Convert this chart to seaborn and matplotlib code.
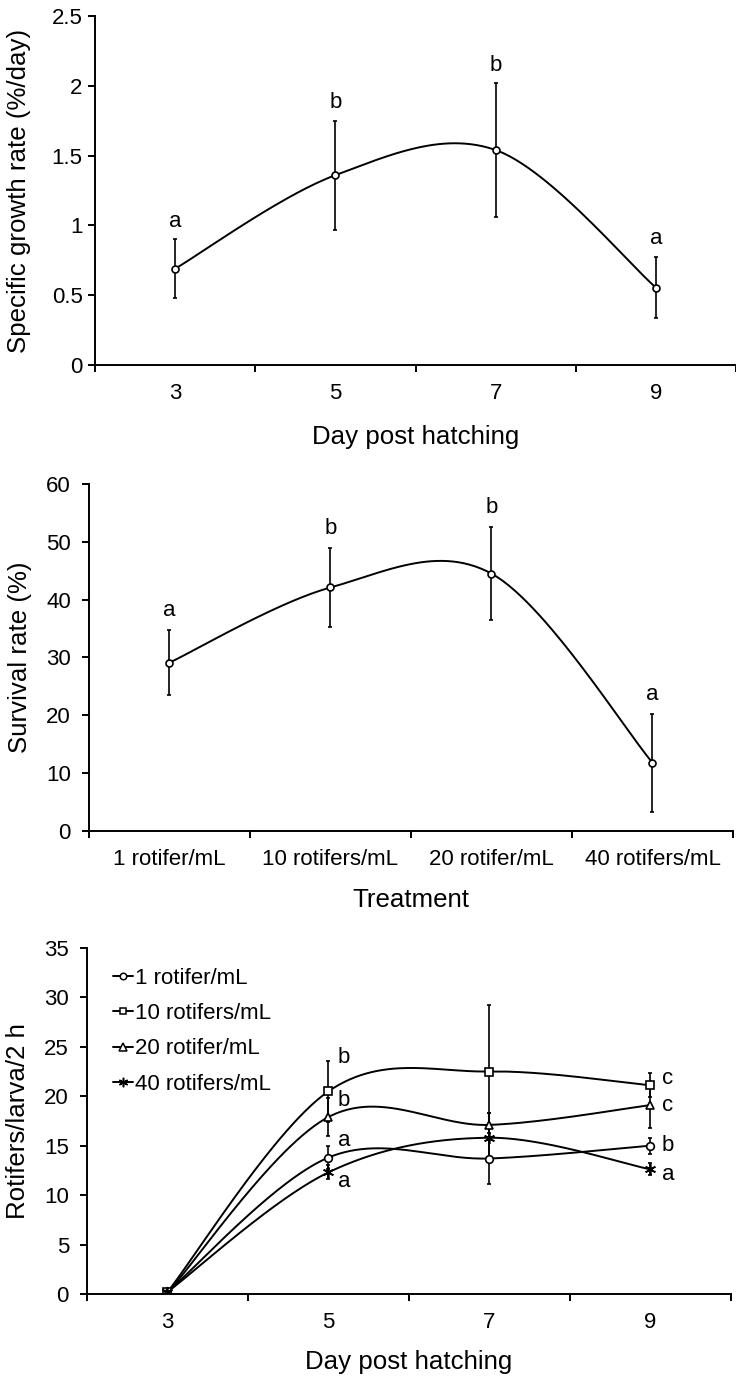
import numpy as np
import pandas as pd
import seaborn as sns
import matplotlib
matplotlib.use("Agg")
import matplotlib.pyplot as plt
from matplotlib.lines import Line2D
from matplotlib.ticker import FixedLocator, FuncFormatter, NullFormatter

# ---- data ----
days = ["3", "5", "7", "9"]

sgr_mean = [0.69, 1.36, 1.54, 0.555]
sgr_err = [0.21, 0.39, 0.48, 0.22]
sgr_letters = ["a", "b", "b", "a"]

treatments = ["1 rotifer/mL", "10 rotifers/mL", "20 rotifer/mL", "40 rotifers/mL"]
surv_mean = [29.1, 42.1, 44.5, 11.8]
surv_err = [5.6, 6.8, 8.1, 8.5]
surv_letters = ["a", "b", "b", "a"]

ingest_1 = [0.2, 13.8, 13.7, 15.0]
ingest_1_err = [0.0, 1.2, 2.6, 0.8]
ingest_10 = [0.2, 20.5, 22.5, 21.1]
ingest_10_err = [0.0, 3.1, 6.7, 1.2]
ingest_20 = [0.1, 17.9, 17.1, 19.1]
ingest_20_err = [0.0, 1.9, 1.2, 2.3]
ingest_40 = [0.2, 12.3, 15.8, 12.6]
ingest_40_err = [0.0, 0.7, 2.5, 0.6]
letters_day5 = ["a", "b", "b", "a"]
letters_day9 = ["b", "c", "c", "a"]

# ---- style ----
sns.set_theme(style="ticks")
plt.rcParams["font.family"] = ["Liberation Sans", "DejaVu Sans"]
for key in ("text.color", "axes.labelcolor", "xtick.color", "ytick.color", "axes.edgecolor"):
    plt.rcParams[key] = "black"
TICK_FS = 16
LABEL_FS = 18.6
LW = 1.4


def smooth_curve(y, n=60):
    """Bezier-smoothed path through the points (Catmull-Rom style control points)."""
    pts = np.column_stack([np.arange(len(y)), y]).astype(float)
    p = np.vstack([pts[0], pts, pts[-1]])
    t = np.linspace(0, 1, n)[:, None]
    segs = []
    for i in range(1, len(p) - 2):
        p0, p3 = p[i], p[i + 1]
        c1 = p0 + (p[i + 1] - p[i - 1]) / 6
        c2 = p3 - (p[i + 2] - p[i]) / 6
        seg = (1 - t) ** 3 * p0 + 3 * (1 - t) ** 2 * t * c1 + 3 * (1 - t) * t ** 2 * c2 + t ** 3 * p3
        segs.append(seg if i == 1 else seg[1:])
    out = np.vstack(segs)
    return pd.DataFrame({"x": out[:, 0], "y": out[:, 1]})


def style_axes(ax, cats, ymax, ystep, ypad):
    n = len(cats)
    ax.set_xlim(-0.5, n - 0.5)
    ax.set_ylim(0, ymax)
    ax.xaxis.set_major_locator(FixedLocator(np.arange(n)))
    ax.set_xticklabels(cats, fontsize=TICK_FS)
    ax.xaxis.set_minor_locator(FixedLocator(np.arange(n + 1) - 0.5))
    ax.xaxis.set_minor_formatter(NullFormatter())
    ax.tick_params(axis="x", which="major", length=0, pad=13)
    ax.tick_params(axis="x", which="minor", length=5, width=1.4, direction="out")
    ax.yaxis.set_major_locator(FixedLocator(np.arange(0, ymax + 1e-9, ystep)))
    ax.yaxis.set_major_formatter(FuncFormatter(lambda v, _: f"{v:g}"))
    ax.tick_params(axis="y", length=5, width=1.4, labelsize=TICK_FS, pad=ypad)
    for s in ("top", "right"):
        ax.spines[s].set_visible(False)
    for s in ("left", "bottom"):
        ax.spines[s].set_linewidth(1.4)
    ax.set_facecolor("white")


def set_labels(ax, xlabel, ylabel, xlab_y, ylab_x):
    ax.set_xlabel(xlabel, fontsize=LABEL_FS)
    ax.set_ylabel(ylabel, fontsize=LABEL_FS)
    ax.xaxis.label.set_va("center")
    ax.yaxis.label.set_va("center")
    ax.xaxis.set_label_coords(0.5, xlab_y)
    ax.yaxis.set_label_coords(ylab_x, 0.5)


def draw_series(ax, y, err, marker, ms):
    curve = smooth_curve(y)
    sns.lineplot(data=curve, x="x", y="y", sort=False, estimator=None,
                 color="black", lw=LW, ax=ax, zorder=2)
    x = np.arange(len(y))
    ax.errorbar(x, y, yerr=err, fmt="none", ecolor="black", elinewidth=1.2,
                capsize=1.5, capthick=1.2, zorder=3)
    ax.plot(x, y, linestyle="none", marker=marker, ms=ms, mfc="white",
            mec="black", mew=1.2, zorder=4)


fig = plt.figure(figsize=(7.36, 13.78), dpi=100)
fig.patch.set_facecolor("white")

# ---- panel 1: specific growth rate ----
ax1 = fig.add_axes([0.1291, 0.7351, 0.8709, 0.2533])
draw_series(ax1, sgr_mean, sgr_err, "o", 5)
style_axes(ax1, days, 2.5, 0.5, ypad=4)
for i, (m, e, l) in enumerate(zip(sgr_mean, sgr_err, sgr_letters)):
    ax1.annotate(l, (i, m + e), xytext=(0, 9), textcoords="offset points",
                 ha="center", va="baseline", fontsize=TICK_FS)
set_labels(ax1, "Day post hatching", "Specific growth rate (%/day)", -0.205, -0.118)

# ---- panel 2: survival ----
ax2 = fig.add_axes([0.1209, 0.397, 0.875, 0.2518])
draw_series(ax2, surv_mean, surv_err, "o", 5)
style_axes(ax2, treatments, 60, 10, ypad=8)
for i, (m, e, l) in enumerate(zip(surv_mean, surv_err, surv_letters)):
    ax2.annotate(l, (i, m + e), xytext=(0, 10), textcoords="offset points",
                 ha="center", va="baseline", fontsize=TICK_FS)
set_labels(ax2, "Treatment", "Survival rate (%)", -0.199, -0.107)

# ---- panel 3: rotifer ingestion ----
ax3 = fig.add_axes([0.1182, 0.0610, 0.875, 0.2511])
series = [
    (treatments[0], ingest_1, ingest_1_err, "o", 5.5),
    (treatments[1], ingest_10, ingest_10_err, "s", 5.5),
    (treatments[2], ingest_20, ingest_20_err, "^", 6),
    (treatments[3], ingest_40, ingest_40_err, (6, 2, 0), 8),
]
for name, y, err, mk, ms in series:
    draw_series(ax3, y, err, mk, ms)
style_axes(ax3, days, 35, 5, ypad=8)

# significance letters to the right of the day-5 and day-9 points
day5_dy = [12, 24, 12, -6.5]
day9_dy = [0, 5, 0, -3.6]
for (name, y, err, mk, ms), l5, d5, l9, d9 in zip(series, letters_day5, day5_dy,
                                                   letters_day9, day9_dy):
    ax3.annotate(l5, (1, y[1]), xytext=(6.5, d5), textcoords="offset points",
                 ha="left", va="center", fontsize=TICK_FS)
    ax3.annotate(l9, (3, y[3]), xytext=(8, d9), textcoords="offset points",
                 ha="left", va="center", fontsize=TICK_FS)

handles = [Line2D([], [], color="black", lw=LW, marker=mk, ms=ms * 0.85, mfc="white",
                  mec="black", mew=1.1) for _, _, _, mk, ms in series]
ax3.legend(handles, [s[0] for s in series], loc="upper left",
           bbox_to_anchor=(0.04, 0.942), frameon=False, fontsize=TICK_FS,
           handlelength=0.9, handletextpad=0.1, labelspacing=0.64,
           borderaxespad=0, borderpad=0)
set_labels(ax3, "Day post hatching", "Rotifers/larva/2 h", -0.197, -0.107)

fig.savefig("out.png", dpi=100, facecolor="white")
